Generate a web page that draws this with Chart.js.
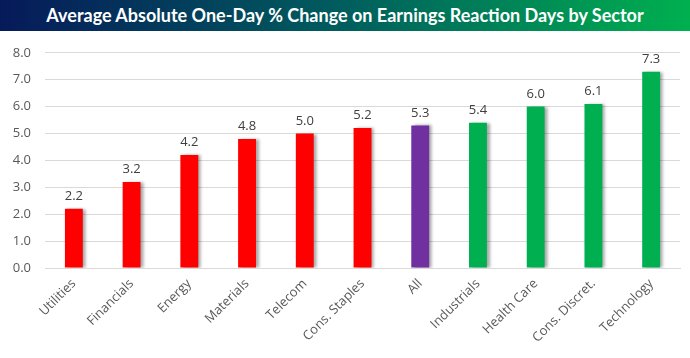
<!DOCTYPE html>
<html>
<head>
<meta charset="utf-8">
<script src="https://cdn.jsdelivr.net/npm/chart.js@4"></script>
<style>
html,body{margin:0;padding:0;background:#fff;}
#wrap{width:690px;height:358px;position:relative;overflow:hidden;}
#title{height:31px;line-height:31px;width:690px;background:linear-gradient(to right,#061a5a 0%,#005e5e 50%,#00b04f 100%);color:#fff;font-family:Lato,"Open Sans",sans-serif;font-weight:bold;font-size:18px;text-align:center;}
#cv{display:block;}
</style>
</head>
<body>
<div id="wrap">
<div id="title">Average Absolute One-Day % Change on Earnings Reaction Days by Sector</div>
<canvas id="cv" width="690" height="327"></canvas>
</div>
<script>
const categories = ["Utilities","Financials","Energy","Materials","Telecom","Cons. Staples","All","Industrials","Health Care","Cons. Discret.","Technology"];
const values = [2.2,3.2,4.2,4.8,5.0,5.2,5.3,5.4,6.0,6.1,7.3];
const groups = ["low","low","low","low","low","low","all","high","high","high","high"];
const groupColors = {low:"#ff0000", all:"#7030a0", high:"#00b050"};

const shadowPlugin = {
  id:"shadow",
  beforeDatasetsDraw(chart){
    const c = chart.ctx; c.save();
    c.shadowColor = "rgba(0,0,0,0.35)"; c.shadowBlur = 3; c.shadowOffsetX = 3; c.shadowOffsetY = 0;
  },
  afterDatasetsDraw(chart){ chart.ctx.restore(); }
};
const labelPlugin = {
  id:"vlabels",
  afterDatasetsDraw(chart){
    const c = chart.ctx; const meta = chart.getDatasetMeta(0);
    c.save();
    c.font = "13px 'Open Sans', sans-serif"; c.fillStyle = "#404040";
    c.textAlign = "center"; c.textBaseline = "bottom";
    meta.data.forEach((b,i)=>{ c.fillText(values[i].toFixed(1), b.x, b.y - 6); });
    c.restore();
  }
};

new Chart(document.getElementById("cv"), {
  type:"bar",
  data:{labels:categories, datasets:[{data:values, backgroundColor:groups.map(g=>groupColors[g]), barPercentage:0.31, categoryPercentage:1.0}]},
  options:{
    responsive:false, animation:false,
    layout:{padding:{top:15,right:10,left:0,bottom:0}},
    plugins:{legend:{display:false}, tooltip:{enabled:false}},
    scales:{
      x:{
        grid:{display:false, drawTicks:false},
        border:{color:"#d9d9d9"},
        ticks:{color:"#595959", font:{family:"'Open Sans', sans-serif", size:13}, minRotation:45, maxRotation:45, padding:8},
        afterFit(s){ s.height = 90; }
      },
      y:{
        min:0, max:8,
        ticks:{stepSize:1, color:"#595959", font:{family:"'Open Sans', sans-serif", size:13}, padding:14, callback:v=>v.toFixed(1)},
        grid:{color:"#d9d9d9", drawTicks:false},
        border:{display:false},
        afterFit(s){ s.width = 45; }
      }
    }
  },
  plugins:[shadowPlugin,labelPlugin]
});
</script>
</body>
</html>
